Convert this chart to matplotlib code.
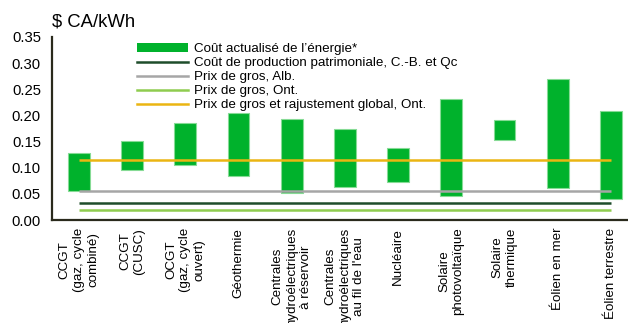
import matplotlib
matplotlib.use("Agg")
import matplotlib.pyplot as plt
from matplotlib.patches import Patch
from matplotlib.lines import Line2D

plt.rcParams['font.family'] = ['Liberation Sans', 'DejaVu Sans']

categories = [
    "CCGT\n(gaz, cycle\ncombiné)",
    "CCGT\n(CUSC)",
    "OCGT\n(gaz, cycle\nouvert)",
    "Géothermie",
    "Centrales\nhydroélectriques\nà réservoir",
    "Centrales\nhydroélectriques\nau fil de l'eau",
    "Nucléaire",
    "Solaire\nphotovoltaïque",
    "Solaire\nthermique",
    "Éolien en mer",
    "Éolien terrestre",
]
lcoe_low = [0.055, 0.096, 0.105, 0.084, 0.052, 0.064, 0.072, 0.046, 0.153, 0.061, 0.040]
lcoe_high = [0.129, 0.151, 0.185, 0.204, 0.193, 0.174, 0.137, 0.231, 0.191, 0.270, 0.209]

heritage_cost_bc_qc = 0.033
wholesale_alb = 0.056
wholesale_ont = 0.020
wholesale_global_adj_ont = 0.115

yticks = [0.00, 0.05, 0.10, 0.15, 0.20, 0.25, 0.30, 0.35]

bar_green = "#00B22C"
dark_green = "#1E4D2B"
grey = "#A6A6A6"
light_green = "#8FCC4F"
gold = "#EBB512"

fig = plt.figure(figsize=(6.28, 3.23), dpi=100)
ax = fig.add_axes([52 / 628, 1 - 220 / 323, 1 - 52 / 628, (220 - 37) / 323])

x = list(range(len(categories)))
heights = [h - l for l, h in zip(lcoe_low, lcoe_high)]
ax.bar(x, heights, bottom=lcoe_low, width=0.41, color=bar_green,
       edgecolor="#86DB95", linewidth=0.8, zorder=2)

x0, x1 = x[0], x[-1]
ax.hlines(heritage_cost_bc_qc, x0, x1, color=dark_green, linewidth=1.8, zorder=3)
ax.hlines(wholesale_alb, x0, x1, color=grey, linewidth=1.8, zorder=3)
ax.hlines(wholesale_ont, x0, x1, color=light_green, linewidth=1.8, zorder=3)
ax.hlines(wholesale_global_adj_ont, x0, x1, color=gold, linewidth=1.8, zorder=3)

ax.set_ylim(0, 0.35)
ax.set_xlim(-0.507, 10.32)
ax.set_yticks(yticks)
ax.set_yticklabels([f"{v:.2f}" for v in yticks], fontsize=10.7)
ax.set_xticks(x)
ax.set_xticklabels(categories, rotation=90, ha="center", va="top",
                   multialignment="center", fontsize=9.6, linespacing=1.24)
ax.tick_params(axis="y", length=0, pad=8)
ax.tick_params(axis="x", length=0, pad=5.5)

for side in ("top", "right"):
    ax.spines[side].set_visible(False)
for side in ("left", "bottom"):
    ax.spines[side].set_color("#2A2A1C")
    ax.spines[side].set_linewidth(1.6)

fig.text(52 / 628, 1 - 27 / 323, "$ CA/kWh", fontsize=13.3, ha="left",
         va="baseline")

handles = [
    Patch(facecolor=bar_green, edgecolor="none"),
    Line2D([], [], color=dark_green, linewidth=1.8),
    Line2D([], [], color=grey, linewidth=1.8),
    Line2D([], [], color=light_green, linewidth=1.8),
    Line2D([], [], color=gold, linewidth=1.8),
]
labels = [
    "Coût actualisé de l’énergie*",
    "Coût de production patrimoniale, C.-B. et Qc",
    "Prix de gros, Alb.",
    "Prix de gros, Ont.",
    "Prix de gros et rajustement global, Ont.",
]
fig.legend(handles, labels, loc="upper left",
           bbox_to_anchor=(137 / 628, 1 - 43 / 323), frameon=False,
           fontsize=9.6, handlelength=3.8, handletextpad=0.45,
           handleheight=0.6, labelspacing=0.15, borderpad=0,
           borderaxespad=0)

fig.savefig("out.png", dpi=100)
